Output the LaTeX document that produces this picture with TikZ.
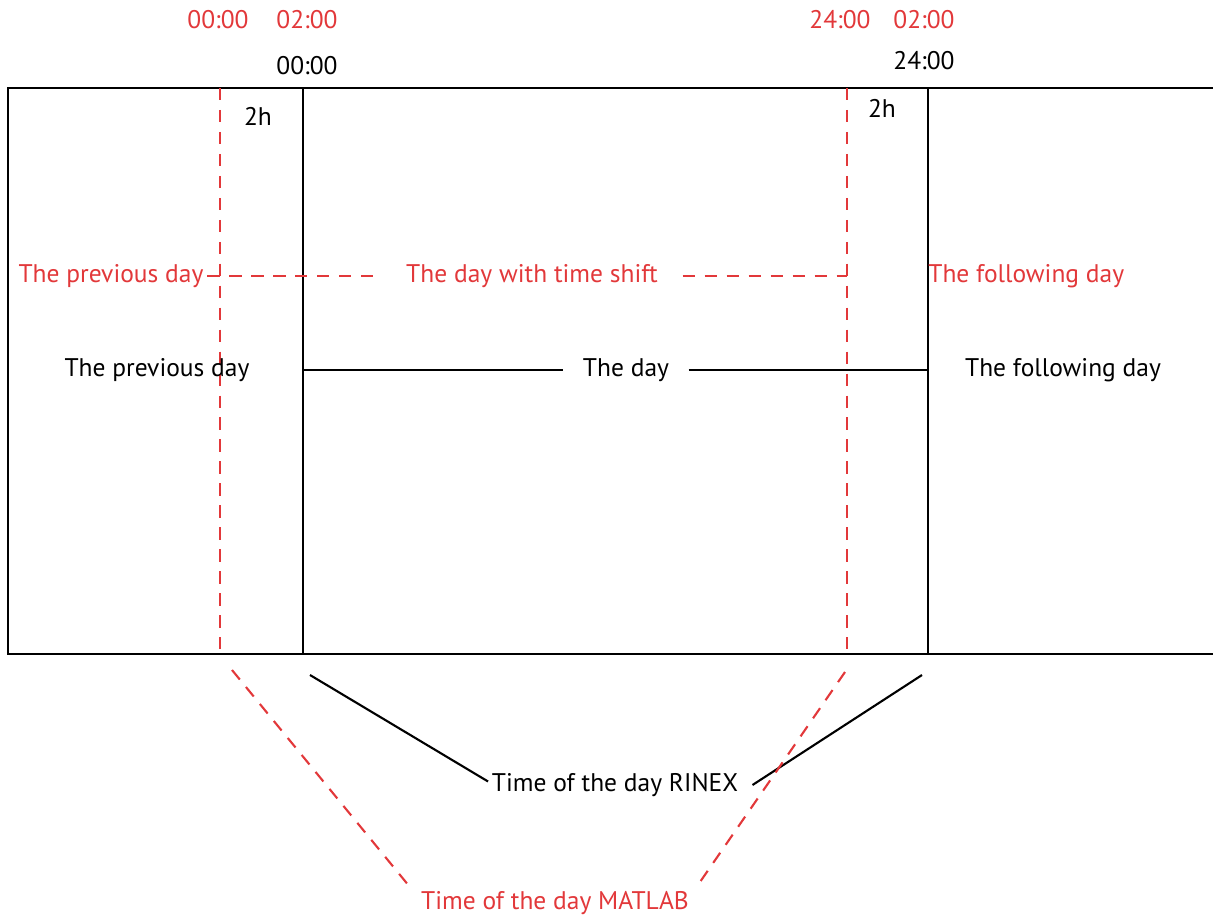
\documentclass[tikz,border=0pt]{standalone}
\usepackage{fontspec}
\setmainfont{PT Sans}
\usetikzlibrary{positioning}
\definecolor{matlab-red}{HTML}{E2383A}
\colorlet{rinex}{black}
\colorlet{shift}{matlab-red}

\begin{document}
\begin{tikzpicture}[
  font=\fontsize{14.5}{16}\selectfont,
  rinexline/.style={draw=rinex,line width=1.2pt},
  shiftline/.style={draw=shift,line width=1.2pt,dash pattern=on 7pt off 5.5pt},
  shiftlabel/.style={text=shift,inner sep=2pt},
  rinexlabel/.style={text=rinex,inner sep=2pt}]
\useasboundingbox (0,0) rectangle (24.26,-18.36);
% frame
\draw[rinexline] (24.26,-1.76) -- (0.16,-1.76) -- (0.16,-13.08) -- (24.26,-13.08);
% day borders
\coordinate (start-top) at (6.06,-1.76);
\coordinate (start-bot) at (6.06,-13.08);
\coordinate (end-top) at (18.56,-1.76);
\coordinate (end-bot) at (18.56,-13.08);
\draw[rinexline] (start-top) -- (start-bot);
\draw[rinexline] (end-top) -- (end-bot);
% shifted day borders
\coordinate (sstart-top) at (4.40,-1.76);
\coordinate (sstart-bot) at (4.40,-13.08);
\coordinate (send-top) at (16.94,-1.76);
\coordinate (send-bot) at (16.94,-13.08);
\draw[shiftline] (sstart-top) -- (sstart-bot);
\draw[shiftline] (send-top) -- (send-bot);
% clock labels
\node[shiftlabel] (m-start) at (4.36,-0.40) {00:00};
\node[shiftlabel] (m-two) at (6.14,-0.40) {02:00};
\node[rinexlabel,below=0.38 of m-two] (r-start) {00:00};
\node[shiftlabel] (m-end) at (16.80,-0.40) {24:00};
\node[shiftlabel] (m-twoend) at (18.48,-0.40) {02:00};
\node[rinexlabel,below=0.28 of m-twoend] (r-end) {24:00};
\node[rinexlabel] (gap-start) at (5.16,-2.32) {2h};
\node[rinexlabel] (gap-end) at (17.64,-2.16) {2h};
% shifted days
\node[shiftlabel] (prev-s) at (2.22,-5.52) {The previous day};
\node[shiftlabel,inner sep=14pt] (day-s) at (10.64,-5.52) {The day with time shift};
\node[shiftlabel,anchor=west,inner sep=0pt] (next-s) at (18.56,-5.52) {The following day};
\draw[shiftline] (prev-s) -- (day-s);
\draw[shiftline] (day-s) -- (send-top |- day-s);
% days
\node[rinexlabel] (prev-r) at (3.14,-7.40) {The previous day};
\node[rinexlabel,inner sep=11pt] (day-r) at (12.52,-7.40) {The day};
\node[rinexlabel] (next-r) at (21.26,-7.40) {The following day};
\draw[rinexline] (start-top |- day-r) -- (day-r);
\draw[rinexline] (day-r) -- (end-top |- day-r);
% legend
\node[rinexlabel] (rinex) at (12.30,-15.70) {Time of the day RINEX};
\node[shiftlabel] (matlab) at (11.10,-18.06) {Time of the day MATLAB};
\draw[rinexline] (6.20,-13.50) -- ([yshift=2pt]rinex.west);
\draw[rinexline] (18.44,-13.50) -- ([xshift=6pt]rinex.east);
\draw[shiftline] (4.64,-13.40) -- ([xshift=-4pt]matlab.north west);
\draw[shiftline] (16.90,-13.44) -- ([xshift=2pt]matlab.north east);
\end{tikzpicture}
\end{document}
